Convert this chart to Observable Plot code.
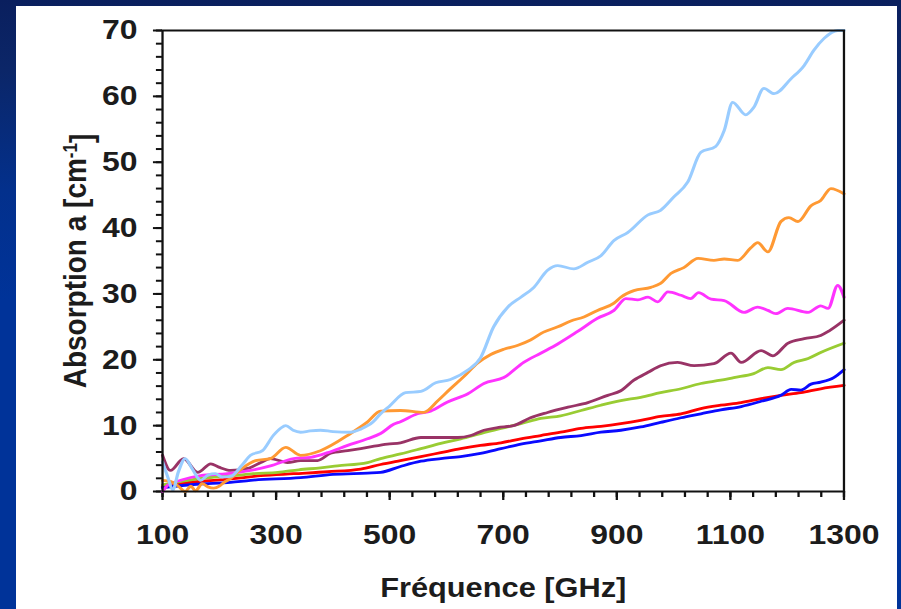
<!DOCTYPE html>
<html>
<head>
<meta charset="utf-8">
<script src="https://cdn.jsdelivr.net/npm/d3@7"></script>
<script src="https://cdn.jsdelivr.net/npm/@observablehq/plot@0.6"></script>
<style>
  html, body { margin: 0; padding: 0; }
  body {
    width: 901px; height: 609px; overflow: hidden; position: relative;
    background: linear-gradient(180deg, #0a1f5e 0px, #0b2668 70px, #03308c 190px, #003399 300px, #003399 609px);
  }
  #panel { position: absolute; left: 16px; top: 6px; width: 881px; height: 603px; background: #ffffff; }
  #chart { position: absolute; left: 0; top: 0; }
</style>
</head>
<body>
<div id="panel"></div>
<div id="chart"></div>
<script>
// Absorption spectra, frequency in GHz vs absorption in cm^-1, one list per curve
const lightBlue = [[100,4.5],[110,2],[118,0.2],[128,3],[140,5],[152,3.5],[167,1.7],[180,2.5],[193,2.7],[205,2.2],[220,2.3],[240,4],[255,5.5],[276,6.2],[295,8.5],[308,9.6],[317,10],[330,9.3],[343,9],[360,9.2],[378,9.3],[400,9.1],[431,9],[450,9.5],[470,10.5],[484,11.8],[500,13],[528,15],[555,15.2],[581,16.5],[607,17],[637,18.4],[660,20.3],[683,25],[708,28],[731,29.5],[754,31],[778,33.6],[796,34.3],[824,33.8],[849,34.8],[872,35.8],[895,38.1],[919,39.3],[955,42],[977,42.7],[1000,44.7],[1025,47],[1048,51.5],[1074,52.4],[1089,54.8],[1104,59.1],[1127,57.2],[1141,58.3],[1159,61.2],[1177,60.4],[1207,62.7],[1230,64.7],[1247,67],[1265,68.8],[1289,70],[1300,70]];
const orange = [[100,1.7],[115,1.5],[128,0.8],[140,0],[150,0.8],[158,0.1],[170,1.2],[180,0.7],[190,0.5],[200,0.8],[207,1.3],[220,2],[240,3.5],[264,4.7],[290,5],[317,6.7],[343,5.5],[378,6.2],[431,8.8],[460,10.5],[484,12.2],[519,12.3],[560,12],[585,13.8],[607,15.6],[630,17.4],[655,19.5],[678,20.8],[701,21.6],[726,22.2],[748,23],[771,24.2],[796,25],[819,25.9],[842,26.5],[866,27.5],[895,28.6],[907,29.5],[930,30.5],[960,31],[977,31.6],[995,33.1],[1018,34],[1043,35.4],[1071,35.1],[1089,35.3],[1113,35.1],[1136,37],[1148,37.8],[1166,36.4],[1189,41],[1203,41.6],[1219,41],[1242,43.4],[1259,44.2],[1277,46],[1300,45.2]];
const magenta = [[100,0],[110,1],[132,1.7],[167,2.4],[214,2.7],[255,3.2],[290,3.9],[331,5],[361,5.2],[391,5.9],[426,7],[461,8],[484,8.8],[507,10.2],[519,10.6],[549,11.8],[572,12.2],[602,13.6],[637,14.8],[666,16.4],[701,17.3],[736,19.6],[766,21],[796,22.4],[831,24.3],[866,26.3],[895,27.5],[916,29.3],[937,29.1],[955,29.5],[972,28.8],[990,30.3],[1013,29.8],[1030,29.3],[1044,30.2],[1066,29.2],[1089,29],[1124,27.2],[1148,28],[1166,27.5],[1180,27],[1201,27.8],[1237,27.2],[1259,28.2],[1272,27.8],[1289,31.3],[1300,29.5]];
const mauve = [[100,5.5],[114,3.2],[137,5],[162,2.9],[185,4.2],[199,3.7],[220,3.2],[250,3.5],[273,4.4],[290,5],[320,4.4],[343,4.7],[373,4.7],[396,5.8],[426,6.2],[461,6.7],[496,7.2],[519,7.4],[555,8.2],[585,8.2],[620,8.2],[643,8.5],[666,9.3],[690,9.7],[718,10],[748,11.2],[778,12],[814,12.8],[849,13.5],[884,14.6],[907,15.3],[930,16.9],[955,18.1],[977,19.1],[1007,19.6],[1036,19.1],[1071,19.4],[1101,21],[1119,19.6],[1154,21.4],[1175,20.6],[1201,22.5],[1230,23.2],[1259,23.7],[1274,24.4],[1300,26]];
const green = [[100,1],[144,1.7],[180,2.1],[225,2.4],[260,2.7],[303,2.9],[340,3.3],[378,3.6],[408,3.9],[461,4.4],[484,5],[519,5.7],[555,6.5],[590,7.3],[625,8],[660,8.8],[696,9.6],[731,10.3],[766,11.1],[801,11.5],[837,12.3],[872,13.1],[907,13.8],[942,14.3],[977,15],[1013,15.6],[1048,16.4],[1083,16.9],[1106,17.3],[1141,17.9],[1166,18.8],[1189,18.5],[1212,19.6],[1237,20.2],[1259,21.1],[1300,22.5]];
const blue = [[100,0.6],[160,1.1],[220,1.4],[255,1.7],[343,2.1],[400,2.6],[461,2.8],[484,2.9],[519,3.8],[555,4.6],[590,5],[625,5.3],[660,5.8],[696,6.5],[731,7.2],[766,7.7],[801,8.2],[837,8.5],[872,9],[907,9.3],[942,9.8],[977,10.5],[1013,11.2],[1048,11.8],[1083,12.4],[1119,12.9],[1154,13.7],[1189,14.6],[1207,15.5],[1224,15.4],[1242,16.3],[1259,16.6],[1282,17.3],[1300,18.5]];
const red = [[100,0.8],[140,1.3],[190,1.7],[230,2],[273,2.4],[331,2.7],[391,3],[449,3.4],[484,4.1],[519,4.7],[555,5.3],[590,5.9],[625,6.5],[660,7],[696,7.4],[731,8],[766,8.5],[801,9],[837,9.6],[872,9.9],[907,10.3],[942,10.8],[977,11.4],[1013,11.8],[1048,12.6],[1083,13.1],[1119,13.5],[1154,14.1],[1189,14.6],[1224,15],[1259,15.6],[1300,16.1]];

const seriesNames = ["red", "blue", "green", "mauve", "magenta", "orange", "lightBlue"];
const seriesColors = ["#ff0000", "#0a0aff", "#99cc33", "#993366", "#ff33ff", "#ff9933", "#99ccff"];
const seriesData = [red, blue, green, mauve, magenta, orange, lightBlue];

const xTicks = [100, 300, 500, 700, 900, 1100, 1300];
const yTicks = [0, 10, 20, 30, 40, 50, 60, 70];
const xMinorTicks = d3.range(100, 1301, 40);
const yMinorTicks = d3.range(0, 71, 2);

const xTitle = "Fréquence [GHz]";
const yTitle = "Absorption a [cm-1]";

const rows = seriesData.flatMap((pts, i) => pts.map(([f, a]) => ({series: seriesNames[i], f, a})));

// the slide graphic is stretched horizontally; draw narrower and widen with a transform
const stretch = 901 / 790;

const chart = Plot.plot({
  width: 790,
  height: 609,
  marginLeft: 142,
  marginRight: 50.5,
  marginTop: 30,
  marginBottom: 118,
  x: {domain: [100, 1300]},
  y: {domain: [0, 70]},
  color: {domain: seriesNames, range: seriesColors},
  style: {background: "transparent", fontFamily: "'Liberation Sans', Arial, sans-serif", fontWeight: "bold", color: "#1c1c1c", overflow: "visible"},
  marks: [
    Plot.axisY(yMinorTicks, {tickSize: 5.3, fill: "none", strokeWidth: 2, stroke: "#111", label: null}),
    Plot.axisY(yTicks, {tickSize: 7.9, tickPadding: 14, fontSize: 28, strokeWidth: 2, stroke: "#111", label: null}),
    Plot.axisX(xMinorTicks, {tickSize: 6, fill: "none", strokeWidth: 2, stroke: "#111", label: null}),
    Plot.axisX(xTicks, {tickSize: 9, tickPadding: 24, fontSize: 28, strokeWidth: 2, stroke: "#111", label: null, tickFormat: d3.format("d")}),
    Plot.line(rows, {x: "f", y: "a", z: "series", stroke: "series", strokeWidth: 2.8, curve: "monotone-x", strokeLinejoin: "round", strokeLinecap: "round"}),
    Plot.frame({stroke: "#111", strokeWidth: 2}),
    Plot.text([xTitle], {text: d => d, frameAnchor: "bottom", dy: 97, lineAnchor: "middle", fontSize: 27}),
    Plot.text([yTitle], {text: d => d, frameAnchor: "left", textAnchor: "middle", dx: -76, rotate: -90, lineAnchor: "middle", fontSize: 28})
  ]
});

chart.style.transform = `scaleX(${stretch})`;
chart.style.transformOrigin = "0 0";

// raise the exponent in the y title
d3.select(chart).selectAll("text").filter(function() { return this.textContent === yTitle; }).each(function() {
  const t = d3.select(this);
  t.text(null);
  t.append("tspan").text("Absorption a [cm");
  t.append("tspan").attr("dy", "-0.45em").attr("font-size", "17").text("-1");
  t.append("tspan").attr("dy", "0.45em").text("]");
});

document.getElementById("chart").appendChild(chart);
</script>
</body>
</html>
